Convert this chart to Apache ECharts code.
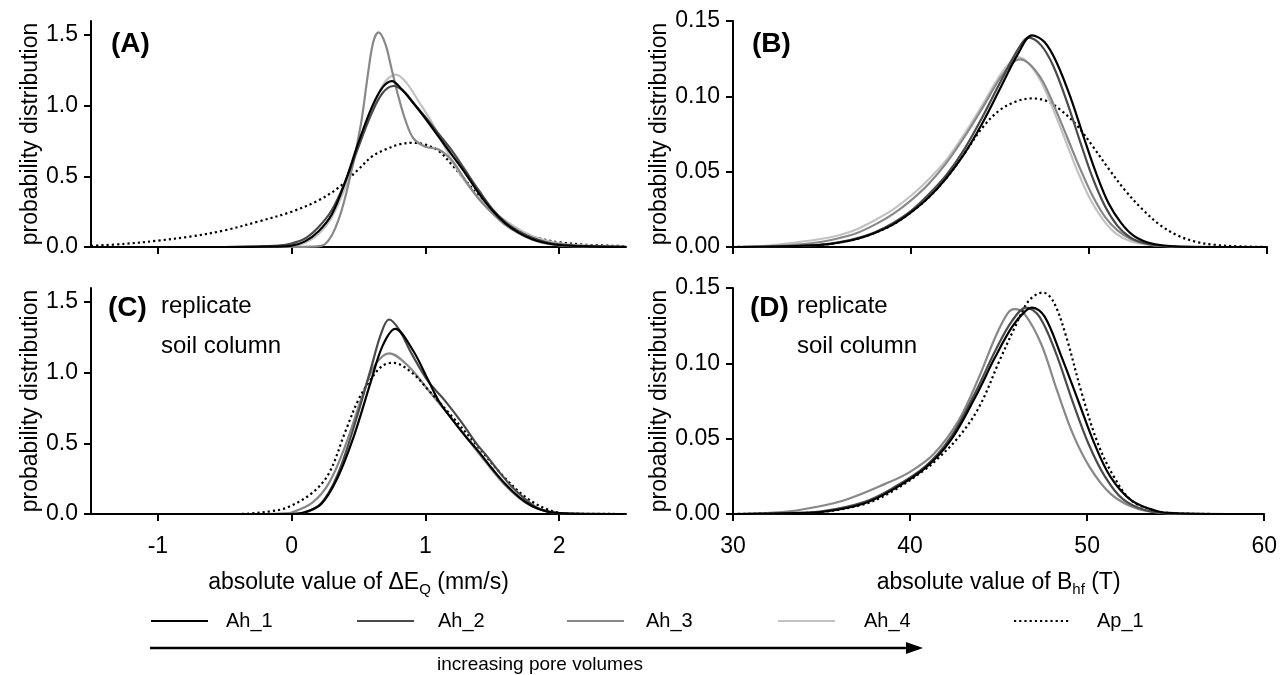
<!DOCTYPE html>
<html><head><meta charset="utf-8">
<script src="https://cdn.jsdelivr.net/npm/echarts@6/dist/echarts.min.js"></script>
<style>html,body{margin:0;padding:0;background:#fff}#c{width:1280px;height:675px}</style>
</head><body><div id="c"></div>
<script>
// ---------- data ----------
const seriesNames = ['Ah_1', 'Ah_2', 'Ah_3', 'Ah_4', 'Ap_1'];
const xTicksDeltaEQ = [-1, 0, 1, 2];
const yTicksDeltaEQ = [0, 0.5, 1, 1.5];

// Panel A: |ΔEQ| (mm/s)
const A_Ah_1 = [[-1.5,0],[-0.5,0],[-0.2,0.002],[0,0.01],[0.1,0.04],[0.2,0.11],[0.3,0.23],[0.4,0.46],[0.5,0.74],[0.6,0.99],[0.68,1.13],[0.75,1.175],[0.82,1.12],[0.9,1.03],[1.0,0.91],[1.1,0.78],[1.2,0.65],[1.3,0.52],[1.4,0.38],[1.5,0.26],[1.6,0.165],[1.7,0.1],[1.8,0.055],[1.9,0.028],[2.0,0.014],[2.2,0.004],[2.5,0]];
const A_Ah_2 = [[-1.5,0],[-0.5,0],[-0.3,0.002],[-0.1,0.01],[0,0.025],[0.1,0.06],[0.2,0.14],[0.3,0.26],[0.4,0.46],[0.5,0.71],[0.6,0.95],[0.68,1.09],[0.76,1.14],[0.84,1.1],[0.92,1.01],[1.0,0.92],[1.1,0.8],[1.2,0.68],[1.3,0.54],[1.4,0.4],[1.5,0.27],[1.6,0.175],[1.7,0.11],[1.8,0.065],[1.9,0.035],[2.0,0.018],[2.2,0.006],[2.5,0.001]];
const A_Ah_3 = [[-1.5,0],[0,0],[0.15,0.002],[0.25,0.02],[0.35,0.19],[0.45,0.55],[0.52,0.88],[0.57,1.22],[0.61,1.45],[0.65,1.52],[0.7,1.44],[0.75,1.25],[0.8,1.06],[0.85,0.9],[0.91,0.77],[1.0,0.71],[1.1,0.69],[1.2,0.61],[1.3,0.47],[1.4,0.34],[1.5,0.24],[1.6,0.155],[1.7,0.095],[1.8,0.052],[1.9,0.025],[2.0,0.012],[2.2,0.003],[2.5,0]];
const A_Ah_4 = [[-1.5,0],[-0.2,0],[0,0.005],[0.1,0.03],[0.2,0.09],[0.3,0.21],[0.4,0.42],[0.5,0.71],[0.6,0.98],[0.7,1.17],[0.78,1.22],[0.86,1.16],[0.95,1.03],[1.05,0.88],[1.15,0.7],[1.25,0.53],[1.35,0.4],[1.45,0.3],[1.55,0.22],[1.65,0.155],[1.75,0.1],[1.85,0.06],[1.95,0.035],[2.1,0.015],[2.5,0.002]];
const A_Ap_1 = [[-1.5,0.008],[-1.25,0.022],[-1.0,0.045],[-0.75,0.075],[-0.5,0.118],[-0.25,0.18],[0,0.25],[0.2,0.33],[0.35,0.42],[0.5,0.55],[0.6,0.64],[0.7,0.69],[0.8,0.725],[0.9,0.738],[1.0,0.725],[1.1,0.68],[1.2,0.58],[1.3,0.47],[1.4,0.36],[1.5,0.245],[1.6,0.17],[1.7,0.115],[1.8,0.075],[1.9,0.05],[2.0,0.033],[2.2,0.016],[2.5,0.006]];

// Panel B: |Bhf| (T)
const B_Ah_1 = [[30,0],[33,0.0005],[35,0.0015],[36,0.003],[37,0.0055],[38,0.0095],[39,0.015],[40,0.023],[41,0.033],[42,0.046],[43,0.062],[44,0.082],[45,0.105],[46,0.128],[46.8,0.1405],[47.5,0.136],[48.2,0.122],[49,0.098],[49.7,0.073],[50.4,0.049],[51.1,0.029],[51.8,0.016],[52.5,0.0075],[53.3,0.003],[54.2,0.001],[56,0],[60,0]];
const B_Ah_2 = [[30,0],[33,0.0005],[35,0.0016],[36,0.0032],[37,0.006],[38,0.01],[39,0.016],[40,0.024],[41,0.035],[42,0.048],[43,0.065],[44,0.086],[45,0.109],[46,0.131],[46.6,0.139],[47.3,0.134],[48,0.12],[48.8,0.095],[49.5,0.07],[50.2,0.046],[50.9,0.027],[51.6,0.014],[52.3,0.0065],[53.1,0.0025],[54,0.0008],[56,0],[60,0]];
const B_Ah_3 = [[30,0],[32,0.0006],[34,0.002],[35,0.0035],[36,0.006],[37,0.0095],[38,0.015],[39,0.022],[40,0.031],[41,0.042],[42,0.056],[43,0.073],[44,0.092],[45,0.112],[45.7,0.122],[46.1,0.1245],[46.7,0.121],[47.4,0.11],[48.1,0.092],[48.8,0.072],[49.5,0.052],[50.2,0.034],[50.9,0.02],[51.6,0.011],[52.4,0.005],[53.3,0.002],[55,0.0003],[60,0]];
const B_Ah_4 = [[30,0],[32,0.001],[33.5,0.003],[35,0.0055],[36,0.008],[37,0.012],[38,0.018],[39,0.025],[40,0.034],[41,0.045],[42,0.058],[43,0.075],[44,0.094],[45,0.114],[45.6,0.123],[46.0,0.126],[46.6,0.122],[47.3,0.11],[48,0.091],[48.7,0.07],[49.4,0.049],[50.1,0.031],[50.8,0.018],[51.5,0.009],[52.3,0.004],[53.3,0.0015],[55,0.0003],[60,0]];
const B_Ap_1 = [[30,0],[33,0.0005],[35,0.0015],[36,0.003],[37,0.0055],[38,0.0095],[39,0.015],[40,0.023],[41,0.033],[42,0.046],[43,0.062],[44,0.079],[45,0.091],[46,0.097],[46.8,0.0986],[47.6,0.097],[48.4,0.091],[49.3,0.081],[50.2,0.067],[51.1,0.052],[52,0.038],[53,0.025],[54,0.0145],[55,0.0075],[56,0.0035],[57,0.0015],[58.5,0.0004],[60,0]];

// Panel C: replicate soil column, |ΔEQ|
const C_Ah_1 = [[-1.5,0],[0,0],[0.09,0.01],[0.22,0.07],[0.34,0.25],[0.465,0.55],[0.59,0.93],[0.68,1.19],[0.775,1.31],[0.9,1.17],[1.02,0.95],[1.1,0.8],[1.2,0.67],[1.3,0.55],[1.4,0.44],[1.5,0.32],[1.6,0.21],[1.7,0.12],[1.8,0.055],[1.9,0.02],[2.0,0.006],[2.2,0],[2.5,0]];
const C_Ah_2 = [[-1.5,0],[0,0],[0.09,0.008],[0.22,0.075],[0.34,0.27],[0.46,0.6],[0.59,1.02],[0.67,1.28],[0.728,1.377],[0.8,1.31],[0.9,1.13],[1.02,0.94],[1.14,0.81],[1.27,0.65],[1.38,0.5],[1.46,0.41],[1.55,0.3],[1.64,0.2],[1.74,0.11],[1.83,0.047],[1.92,0.015],[2.05,0.003],[2.5,0]];
const C_Ah_3 = [[-1.5,0],[-0.2,0],[-0.05,0.004],[0,0.01],[0.155,0.08],[0.28,0.22],[0.40,0.48],[0.53,0.84],[0.62,1.05],[0.73,1.137],[0.87,1.05],[1.02,0.88],[1.15,0.73],[1.3,0.55],[1.45,0.37],[1.6,0.2],[1.75,0.08],[1.9,0.022],[2.05,0.004],[2.5,0]];
const C_Ap_1 = [[-1.5,0],[-0.4,0],[-0.29,0.005],[-0.15,0.02],[-0.03,0.047],[0.155,0.15],[0.28,0.29],[0.40,0.58],[0.50,0.81],[0.59,0.95],[0.68,1.05],[0.76,1.07],[0.9,1.0],[1.02,0.88],[1.2,0.69],[1.39,0.48],[1.58,0.27],[1.77,0.105],[1.95,0.02],[2.1,0.003],[2.5,0]];

// Panel D: replicate soil column, |Bhf|
const D_Ah_1 = [[30,0],[33,0.0005],[35.1,0.0015],[37.4,0.007],[39.0,0.016],[40.9,0.031],[42.3,0.049],[43.7,0.078],[44.8,0.104],[45.75,0.124],[46.45,0.134],[46.9,0.137],[47.6,0.131],[48.5,0.106],[49.5,0.075],[50.4,0.047],[51.3,0.025],[52.5,0.009],[53.9,0.002],[55,0.0005],[58,0],[60,0]];
const D_Ah_2 = [[30,0],[33,0.0006],[35.1,0.002],[37.4,0.008],[39.0,0.017],[40.9,0.032],[42.3,0.051],[43.7,0.081],[44.8,0.108],[45.75,0.128],[46.56,0.137],[47.3,0.131],[48.2,0.108],[49.2,0.074],[50.1,0.046],[51.0,0.025],[52.0,0.01],[53.3,0.0025],[55,0.0004],[58,0],[60,0]];
const D_Ah_3 = [[30,0],[32.3,0.001],[33.9,0.003],[36.25,0.009],[38.6,0.02],[40,0.028],[41.35,0.04],[42.74,0.062],[43.9,0.091],[44.8,0.117],[45.5,0.133],[45.9,0.136],[46.45,0.133],[47.4,0.113],[48.3,0.082],[49.2,0.053],[50.15,0.031],[51.3,0.0137],[52.5,0.005],[53.9,0.001],[56,0],[60,0]];
const D_Ap_1 = [[30,0],[33,0.0005],[35.1,0.0015],[37.4,0.0065],[39.0,0.015],[40.9,0.03],[41.5,0.036],[42.74,0.051],[43.9,0.071],[45.06,0.102],[46.0,0.126],[46.7,0.1415],[47.5,0.147],[48.07,0.1415],[48.76,0.12],[49.7,0.08],[50.6,0.047],[51.5,0.025],[52.5,0.009],[53.9,0.002],[55,0.0005],[58,0],[60,0]];

// ---------- styling ----------
const FONT = 'Liberation Sans';
const COLORS = { Ah_1: '#000000', Ah_2: '#4a4a4a', Ah_3: '#888888', Ah_4: '#c2c2c2', Ap_1: '#000000' };

function mkSeries(name, data, idx) {
  return {
    type: 'line', name: name, data: data,
    xAxisIndex: idx, yAxisIndex: idx,
    symbol: 'none', showSymbol: false, smooth: 0.35,
    clip: true, animation: false,
    lineStyle: { color: COLORS[name], width: 2.2, type: name === 'Ap_1' ? [2.2, 3] : 'solid' },
    itemStyle: { color: COLORS[name] },
    emphasis: { disabled: true }
  };
}

const grids = [
  { left: 91, top: 21, width: 535, height: 226 },
  { left: 733, top: 21, width: 534, height: 226 },
  { left: 91, top: 288, width: 535, height: 226 },
  { left: 733, top: 288, width: 534, height: 226 }
];

const axisLineStyle = { show: true, onZero: false, lineStyle: { color: '#000', width: 2 } };
const tickStyle = { show: true, inside: false, length: 7, lineStyle: { color: '#000', width: 2 } };
const labelBase = { color: '#000', fontSize: 23, fontFamily: FONT };
const nameStyle = {
  color: '#000', fontSize: 23, fontFamily: FONT,
  rich: { sub: { color: '#000', fontSize: 15, fontFamily: FONT, padding: [14, 0, 0, 0] } }
};

function xAxisEQ(idx, showLabels, name) {
  return {
    type: 'value', gridIndex: idx, min: -1.5, max: 2.5,
    axisLine: axisLineStyle,
    axisTick: Object.assign({ customValues: xTicksDeltaEQ }, tickStyle),
    axisLabel: Object.assign({ show: showLabels, customValues: xTicksDeltaEQ, margin: 21 }, labelBase),
    splitLine: { show: false },
    name: name || '', nameLocation: 'middle', nameGap: 54, nameTextStyle: nameStyle
  };
}
function xAxisBhf(idx, showLabels, name) {
  return {
    type: 'value', gridIndex: idx, min: 30, max: 60, interval: 10,
    axisLine: axisLineStyle, axisTick: tickStyle,
    axisLabel: Object.assign({ show: showLabels, margin: 21 }, labelBase),
    splitLine: { show: false },
    name: name || '', nameLocation: 'middle', nameGap: 54, nameTextStyle: nameStyle
  };
}
function yAxisEQ(idx) {
  return {
    type: 'value', gridIndex: idx, min: 0, max: 1.6,
    axisLine: axisLineStyle,
    axisTick: Object.assign({ customValues: yTicksDeltaEQ }, tickStyle),
    axisLabel: Object.assign({ customValues: yTicksDeltaEQ, margin: 13, formatter: v => v.toFixed(1) }, labelBase),
    splitLine: { show: false },
    name: 'probability distribution', nameLocation: 'middle', nameGap: 49, nameTextStyle: nameStyle
  };
}
function yAxisBhf(idx) {
  return {
    type: 'value', gridIndex: idx, min: 0, max: 0.15, interval: 0.05,
    axisLine: axisLineStyle, axisTick: tickStyle,
    axisLabel: Object.assign({ margin: 13, formatter: v => v.toFixed(2) }, labelBase),
    splitLine: { show: false },
    name: 'probability distribution', nameLocation: 'middle', nameGap: 50, nameTextStyle: nameStyle
  };
}

const series = [
  mkSeries('Ap_1', A_Ap_1, 0), mkSeries('Ah_4', A_Ah_4, 0), mkSeries('Ah_3', A_Ah_3, 0), mkSeries('Ah_2', A_Ah_2, 0), mkSeries('Ah_1', A_Ah_1, 0),
  mkSeries('Ap_1', B_Ap_1, 1), mkSeries('Ah_4', B_Ah_4, 1), mkSeries('Ah_3', B_Ah_3, 1), mkSeries('Ah_2', B_Ah_2, 1), mkSeries('Ah_1', B_Ah_1, 1),
  mkSeries('Ah_3', C_Ah_3, 2), mkSeries('Ap_1', C_Ap_1, 2), mkSeries('Ah_2', C_Ah_2, 2), mkSeries('Ah_1', C_Ah_1, 2),
  mkSeries('Ah_3', D_Ah_3, 3), mkSeries('Ap_1', D_Ap_1, 3), mkSeries('Ah_2', D_Ah_2, 3), mkSeries('Ah_1', D_Ah_1, 3)
];

const legendLeft = [150, 356, 566, 777, 1013];
const legendTextPad = [13, 19, 17, 24, 21];
const legends = seriesNames.map((n, i) => ({
  data: [n], left: legendLeft[i], top: 611, orient: 'horizontal', padding: 0,
  itemWidth: 57, itemHeight: 14, selectedMode: false,
  itemStyle: { opacity: 0, borderWidth: 0 },
  textStyle: { color: '#000', fontSize: 20, fontFamily: FONT, padding: [0, 0, 0, legendTextPad[i]] }
}));

const panelLabel = (txt, x, y) => ({ type: 'text', left: x, top: y, style: { text: txt, font: 'bold 28px "Liberation Sans"', fill: '#000' } });
const plainLabel = (txt, x, y) => ({ type: 'text', left: x, top: y, style: { text: txt, font: '24px "Liberation Sans"', fill: '#000' } });

const option = {
  backgroundColor: '#fff',
  animation: false,
  grid: grids,
  xAxis: [xAxisEQ(0, false), xAxisBhf(1, false), xAxisEQ(2, true, 'absolute value of ΔE{sub|Q} (mm/s)'), xAxisBhf(3, true, 'absolute value of B{sub|hf} (T)')],
  yAxis: [yAxisEQ(0), yAxisBhf(1), yAxisEQ(2), yAxisBhf(3)],
  legend: legends,
  series: series,
  graphic: [
    panelLabel('(A)', 111, 30), panelLabel('(B)', 752, 30),
    panelLabel('(C)', 108, 294), panelLabel('(D)', 750, 294),
    plainLabel('replicate', 161, 294), plainLabel('soil column', 161, 334),
    plainLabel('replicate', 797, 294), plainLabel('soil column', 797, 334),
    { type: 'line', shape: { x1: 150, y1: 648, x2: 908, y2: 648 }, style: { stroke: '#000', lineWidth: 2.5 } },
    { type: 'polygon', shape: { points: [[906, 642], [923, 648], [906, 654]] }, style: { fill: '#000' } },
    { type: 'text', x: 540, y: 665, style: { text: 'increasing pore volumes', font: '19px "Liberation Sans"', fill: '#000', align: 'center', verticalAlign: 'middle' } }
  ]
};

const chart = echarts.init(document.getElementById('c'), null, { renderer: 'canvas' });
chart.setOption(option);
</script>
</body></html>
